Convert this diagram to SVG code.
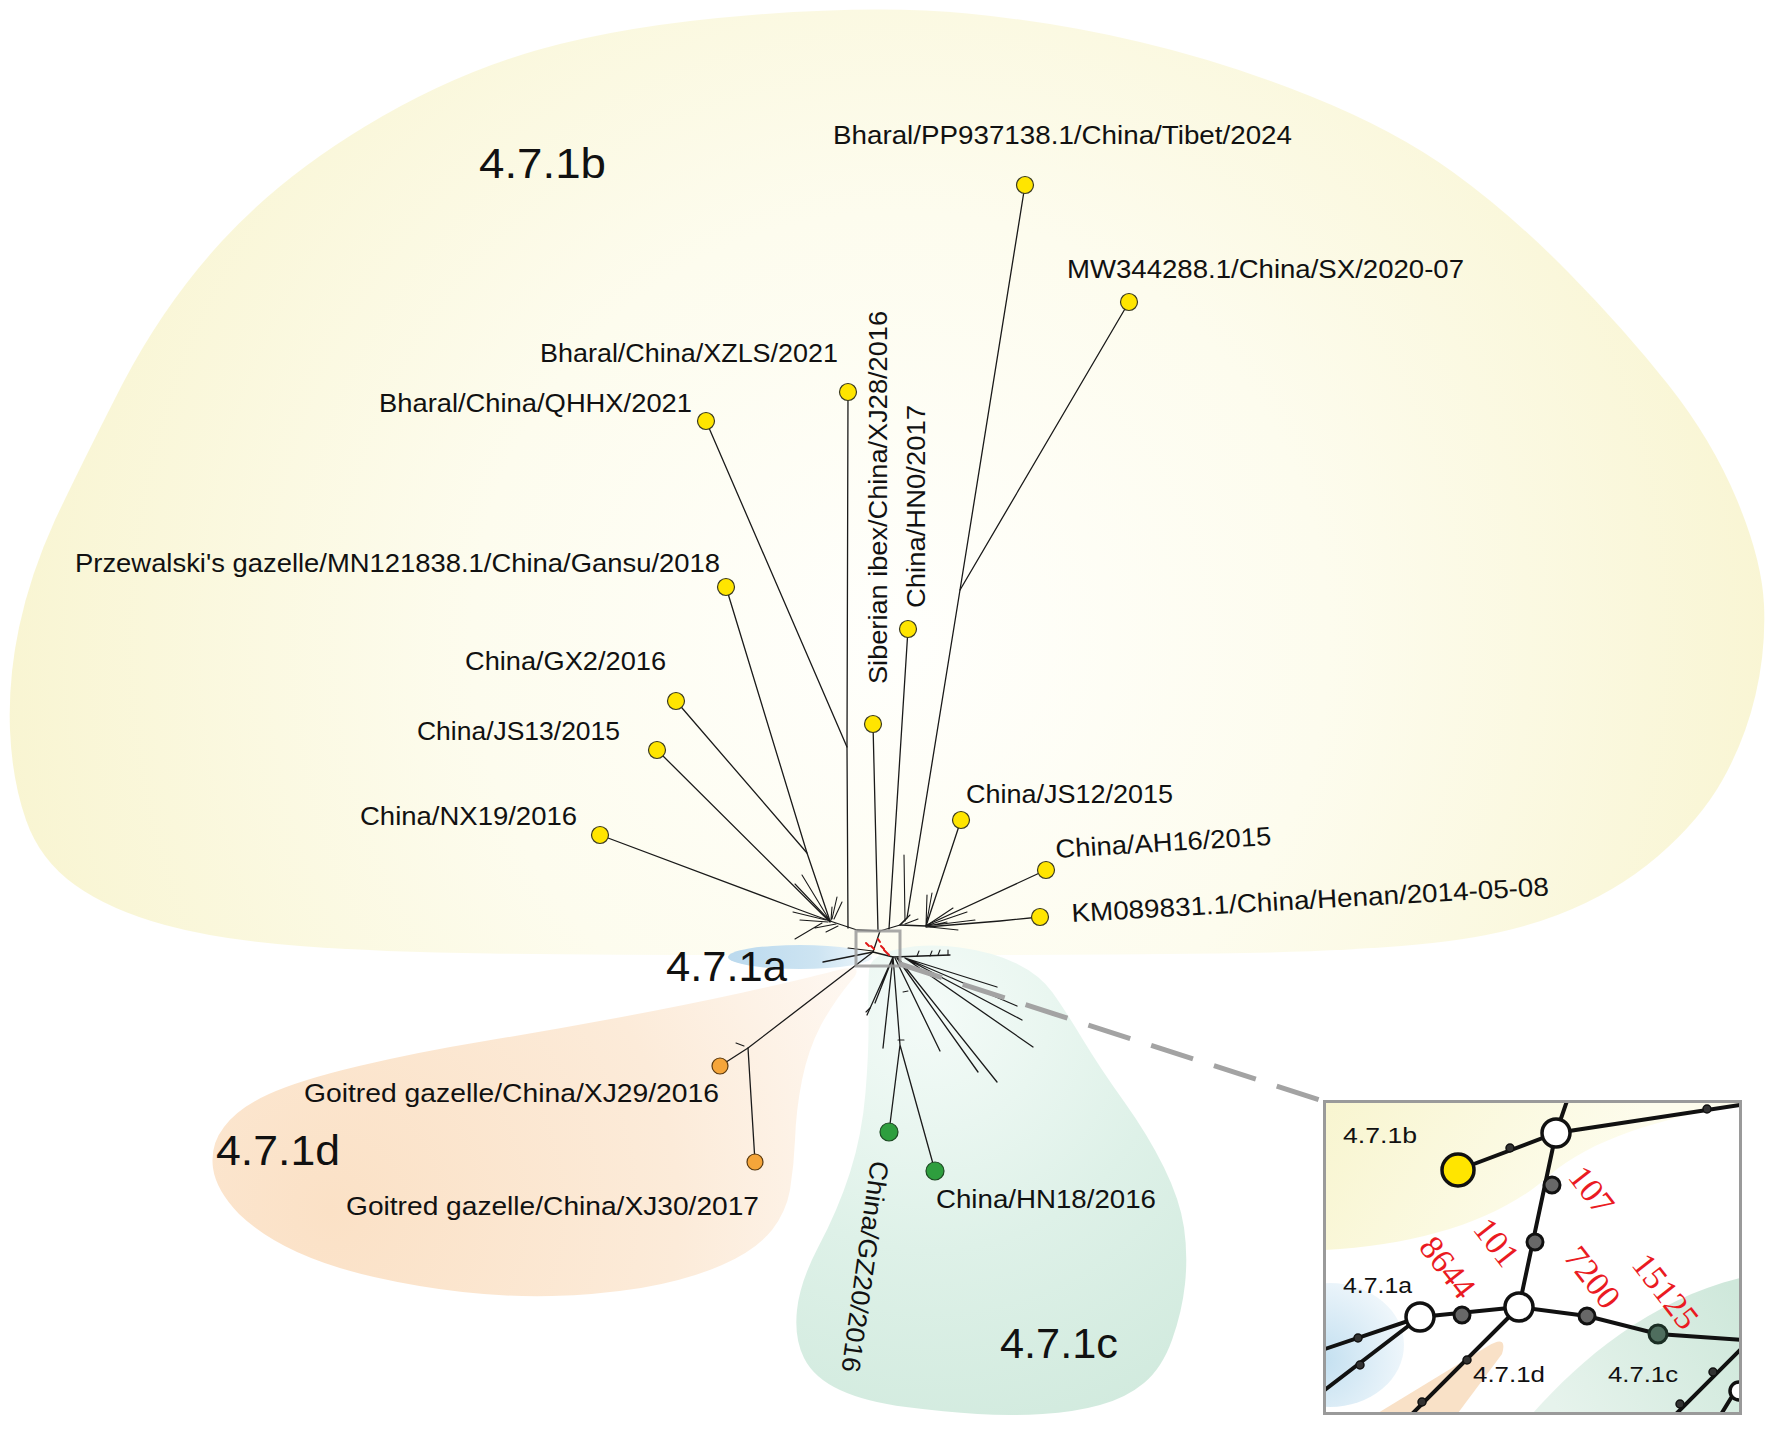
<svg xmlns="http://www.w3.org/2000/svg" width="1772" height="1435" viewBox="0 0 1772 1435">
<defs>
<style>
.br{stroke:#1a1a1a;stroke-width:1.3;fill:none;stroke-linecap:round;stroke-linejoin:round}
.tip{stroke:#1a1a1a;stroke-width:1.1;fill:none;stroke-linecap:round}
.red-m{stroke:#e01818;stroke-width:2;fill:none;stroke-linecap:round}
.lbl{font-family:"Liberation Sans",Arial,sans-serif;font-size:26px;fill:#111}
.clade{font-family:"Liberation Sans",Arial,sans-serif;font-size:42px;fill:#111}
.nY{fill:#ffe500;stroke:#3a3a22;stroke-width:1.2}
.nO{fill:#f5a53a;stroke:#5a3a10;stroke-width:1.2}
.nG{fill:#2e9e3e;stroke:#1c4a22;stroke-width:1.2}
.red{font-family:"Liberation Serif","Times New Roman",serif;font-size:34px;fill:#ea1a22}
.il{font-family:"Liberation Sans",Arial,sans-serif;font-size:22px;fill:#111}
.ib{stroke:#111;stroke-width:4;fill:none;stroke-linecap:round}
.iw{fill:#fff;stroke:#111;stroke-width:3.5}
.ig{fill:#676767;stroke:#111;stroke-width:3}
.is{fill:#333;stroke:#111;stroke-width:1.5}
</style>
<radialGradient id="gY" gradientUnits="userSpaceOnUse" cx="900" cy="640" r="950">
<stop offset="0" stop-color="#fffffc"/><stop offset="0.45" stop-color="#fdfcee"/><stop offset="1" stop-color="#f8f4cf"/>
</radialGradient>
<radialGradient id="gO" gradientUnits="userSpaceOnUse" cx="330" cy="1210" r="580">
<stop offset="0" stop-color="#fbe1c6"/><stop offset="0.6" stop-color="#fcebd9"/><stop offset="1" stop-color="#fef8f2"/>
</radialGradient>
<radialGradient id="gG" gradientUnits="userSpaceOnUse" cx="930" cy="1010" r="480">
<stop offset="0" stop-color="#f4fbf8"/><stop offset="0.5" stop-color="#def1e8"/><stop offset="1" stop-color="#cfe9dc"/>
</radialGradient>
<linearGradient id="gB" gradientUnits="userSpaceOnUse" x1="735" y1="957" x2="872" y2="957">
<stop offset="0" stop-color="#bcdaee"/><stop offset="0.6" stop-color="#cde4f2"/><stop offset="1" stop-color="#eef6fb"/>
</linearGradient>
<linearGradient id="giY" gradientUnits="userSpaceOnUse" x1="1325" y1="1102" x2="1560" y2="1250">
<stop offset="0" stop-color="#f8f5d0"/><stop offset="1" stop-color="#fdfcec"/>
</linearGradient>
<radialGradient id="giB" gradientUnits="userSpaceOnUse" cx="1320" cy="1360" r="85">
<stop offset="0" stop-color="#c2dff0"/><stop offset="1" stop-color="#eef6fb"/>
</radialGradient>
<linearGradient id="giG" gradientUnits="userSpaceOnUse" x1="1740" y1="1300" x2="1560" y2="1413">
<stop offset="0" stop-color="#cfe8db"/><stop offset="1" stop-color="#e6f3ec"/>
</linearGradient>
<clipPath id="insetClip"><rect x="1325" y="1102" width="415" height="311"/></clipPath>
</defs>

<rect x="0" y="0" width="1772" height="1435" fill="#ffffff"/>

<g id="clade-regions">
<path id="region-4.7.1b" fill="url(#gY)" d="M752,15 Q880,5 967.5,13.5 Q1055,22 1140,42 Q1225,62 1310,96 Q1395,130 1453.5,172.5 Q1512,215 1568.5,272.5 Q1625,330 1668.5,385 Q1712,440 1737,500 Q1762,560 1764,605 Q1766,650 1755.5,695 Q1745,740 1722.5,780 Q1700,820 1657.5,856.5 Q1615,893 1557.5,915 Q1500,937 1417.5,944.5 Q1335,952 1217.5,953.5 Q1100,955 985,955 Q870,955 735,955 Q600,955 490,953.5 Q380,952 300,946 Q220,940 165,925 Q110,910 75,885 Q40,860 26,820 Q12,780 10,730 Q8,680 19,627.5 Q30,575 55,520 Q82,463 123,383 Q165,303 222.5,240.5 Q280,178 365,126.5 Q450,75 537.5,50 Q625,25 752,15 Z"/>
<path id="region-4.7.1d" fill="url(#gO)" d="M851,981 Q835,1000 821,1025 Q808,1050 802,1080 Q796,1110 795,1140 Q794,1165 790,1190 Q786,1212 772,1230 Q756,1250 722,1265 Q688,1280 641,1288 Q596,1295 551.5,1296 Q507,1297 462.5,1292 Q418,1287 374,1277 Q330,1267 297,1252 Q262,1236 239,1214 Q216,1190 213,1168 Q210,1145 224,1127 Q238,1108 269,1094 Q300,1080 359,1066 Q418,1052 485,1041 Q552,1030 619,1017.5 Q686,1005 743,992.5 Q800,980 834,971 Q868,962 851,981 Z"/>
<path id="region-4.7.1c" fill="url(#gG)" d="M898.5,949 Q927,943 960,947.5 Q993,952 1016.5,963.5 Q1040,975 1052.5,992.5 Q1065,1010 1082.5,1039 Q1100,1068 1124,1101.5 Q1148,1135 1164,1167.5 Q1180,1200 1184,1227.5 Q1188,1255 1185,1284 Q1182,1312 1172,1340 Q1162,1368 1144,1383 Q1126,1398 1100,1405 Q1075,1412 1042.5,1414 Q1010,1416 977.5,1414 Q945,1412 906,1407 Q866,1402 840,1390 Q814,1378 804,1358 Q794,1338 797,1310 Q800,1282 818,1247.5 Q838,1210 850,1172.5 Q862,1135 865.5,1092.5 Q869,1050 868.5,1017.5 Q868,985 869,970 Q870,955 898.5,949 Z"/>
<ellipse id="region-4.7.1a" cx="800" cy="957" rx="72" ry="12" fill="url(#gB)"/>
</g>

<g id="clade-labels">
<text class="clade" x="479" y="178" textLength="127" lengthAdjust="spacingAndGlyphs">4.7.1b</text>
<text class="clade" x="666" y="981" textLength="121" lengthAdjust="spacingAndGlyphs">4.7.1a</text>
<text class="clade" x="216" y="1165" textLength="124" lengthAdjust="spacingAndGlyphs">4.7.1d</text>
<text class="clade" x="1000" y="1358" textLength="118" lengthAdjust="spacingAndGlyphs">4.7.1c</text>
</g>

<g id="connectors">
<path class="br" d="M600,835 L800,910 L830,921"/>
<path class="br" d="M657,750 L830,922"/>
<path class="br" d="M726,587 L807,853 L830,921"/>
<path class="br" d="M676,701 L807,853"/>
<path class="br" d="M848,392 L847,747 L848,928"/>
<path class="br" d="M706,421 L847,747"/>
<path class="tip" d="M830,921 L802,875 M830,921 L795,884 M832,919 L837,897 M834,919 L842,902 M831,920 L832,907 M822,923 L795,939 M826,920 L793,912 M828,922 L800,920 M836,924 L815,928 M838,926 L826,932"/>
<path class="br" d="M830,921 L857,930 L880,931 L900,925 L926,926"/>
<path class="br" d="M873,724 L878,931"/>
<path class="br" d="M908,629 L889,929"/>
<path class="br" d="M1025,185 L960,590 L907,918 L900,925"/>
<path class="br" d="M1129,302 L960,590"/>
<path class="tip" d="M904,855 L905,921"/>
<path class="br" d="M961,820 L926,926"/>
<path class="br" d="M1046,870 L927,925"/>
<path class="br" d="M1040,917 L1000,921 L926,927"/>
<path class="tip" d="M926,926 L927,895 M926,926 L932,893 M926,926 L953,908 M926,926 L967,912 M926,926 L975,920 M928,926 L947,922 M930,927 L958,930 M900,925 L910,915 M905,924 L918,919"/>
<path class="br" d="M880,931 L877,940 L873,952"/>
<path class="br" d="M873,952 L823,962"/>
<path class="tip" d="M873,951 L848,948"/>
<path class="br" d="M873,952 L748,1048 L720,1066"/>
<path class="br" d="M748,1048 L755,1162"/>
<path class="tip" d="M736,1043 L744,1046"/>
<path class="br" d="M873,952 L893,957 L950,955"/>
<path class="tip" d="M948,955 L948,950 M930,956 L932,951 M917,956 L919,951 M938,955 L940,950"/>
<path class="br" d="M893,957 L867,1015 M893,957 L875,1003 M893,957 L883,1048 M893,957 L900,1045 L889,1132 M900,1045 L935,1171 M895,958 L940,1051 M897,958 L978,1072 M898,958 L997,1082 M905,958 L1033,1047 M905,958 L1022,1020 M905,958 L1017,1006 M905,958 L997,987"/>
<path class="tip" d="M866,1012 L870,1008 M898,1040 L904,1040 M903,992 L908,991"/>
<path class="red-m" d="M866,943 l3,3 M871,946 l3,3 M878,939 l2,3 M881,946 l3,3 M884,950 l3,3 M887,953 l2,2"/>
</g>

<g id="nodes">
<g id="n-tibet"><circle class="nY" cx="1025" cy="185" r="8.5"/><text class="lbl" x="833" y="144" textLength="459" lengthAdjust="spacingAndGlyphs">Bharal/PP937138.1/China/Tibet/2024</text></g>
<g id="n-mw344288"><circle class="nY" cx="1129" cy="302" r="8.5"/><text class="lbl" x="1067" y="278" textLength="397" lengthAdjust="spacingAndGlyphs">MW344288.1/China/SX/2020-07</text></g>
<g id="n-xzls"><circle class="nY" cx="848" cy="392" r="8.5"/><text class="lbl" x="540" y="362" textLength="298" lengthAdjust="spacingAndGlyphs">Bharal/China/XZLS/2021</text></g>
<g id="n-qhhx"><circle class="nY" cx="706" cy="421" r="8.5"/><text class="lbl" x="379" y="412" textLength="313" lengthAdjust="spacingAndGlyphs">Bharal/China/QHHX/2021</text></g>
<g id="n-przewalski"><circle class="nY" cx="726" cy="587" r="8.5"/><text class="lbl" x="75" y="572" textLength="645" lengthAdjust="spacingAndGlyphs">Przewalski's gazelle/MN121838.1/China/Gansu/2018</text></g>
<g id="n-hn0"><circle class="nY" cx="908" cy="629" r="8.5"/><text class="lbl" transform="translate(925,608) rotate(-90)" x="0" y="0" textLength="203" lengthAdjust="spacingAndGlyphs">China/HN0/2017</text></g>
<g id="n-xj28"><circle class="nY" cx="873" cy="724" r="8.5"/><text class="lbl" transform="translate(887,684) rotate(-90)" x="0" y="0" textLength="373" lengthAdjust="spacingAndGlyphs">Siberian ibex/China/XJ28/2016</text></g>
<g id="n-gx2"><circle class="nY" cx="676" cy="701" r="8.5"/><text class="lbl" x="465" y="670" textLength="201" lengthAdjust="spacingAndGlyphs">China/GX2/2016</text></g>
<g id="n-js13"><circle class="nY" cx="657" cy="750" r="8.5"/><text class="lbl" x="417" y="740" textLength="203" lengthAdjust="spacingAndGlyphs">China/JS13/2015</text></g>
<g id="n-nx19"><circle class="nY" cx="600" cy="835" r="8.5"/><text class="lbl" x="360" y="825" textLength="217" lengthAdjust="spacingAndGlyphs">China/NX19/2016</text></g>
<g id="n-js12"><circle class="nY" cx="961" cy="820" r="8.5"/><text class="lbl" x="966" y="803" textLength="207" lengthAdjust="spacingAndGlyphs">China/JS12/2015</text></g>
<g id="n-ah16"><circle class="nY" cx="1046" cy="870" r="8.5"/><text class="lbl" transform="translate(1056,858) rotate(-3.5)" x="0" y="0" textLength="216" lengthAdjust="spacingAndGlyphs">China/AH16/2015</text></g>
<g id="n-km089831"><circle class="nY" cx="1040" cy="917" r="8.5"/><text class="lbl" transform="translate(1072,922) rotate(-3.2)" x="0" y="0" textLength="478" lengthAdjust="spacingAndGlyphs">KM089831.1/China/Henan/2014-05-08</text></g>
<g id="n-xj29"><circle class="nO" cx="720" cy="1066" r="8"/><text class="lbl" x="304" y="1102" textLength="415" lengthAdjust="spacingAndGlyphs">Goitred gazelle/China/XJ29/2016</text></g>
<g id="n-xj30"><circle class="nO" cx="755" cy="1162" r="8"/><text class="lbl" x="346" y="1215" textLength="413" lengthAdjust="spacingAndGlyphs">Goitred gazelle/China/XJ30/2017</text></g>
<g id="n-gz20"><circle class="nG" cx="889" cy="1132" r="9"/><text class="lbl" transform="translate(871,1160) rotate(98)" x="0" y="0" textLength="213" lengthAdjust="spacingAndGlyphs">China/GZ20/2016</text></g>
<g id="n-hn18"><circle class="nG" cx="935" cy="1171" r="9"/><text class="lbl" x="936" y="1208" textLength="220" lengthAdjust="spacingAndGlyphs">China/HN18/2016</text></g>
</g>

<g id="zoom-callout">
<rect x="856" y="931" width="44" height="35" fill="none" stroke="#9a9a9a" stroke-width="3" stroke-opacity="0.85"/>
<path d="M900,964 L1323,1101" stroke="#a3a3a3" stroke-width="5" stroke-dasharray="44 22" fill="none"/>
</g>

<g id="inset">
<rect x="1324.5" y="1101.5" width="416" height="312" fill="#ffffff"/>
<g clip-path="url(#insetClip)">
<path fill="url(#giY)" d="M1325,1102 L1740,1102 L1740,1105 C1660,1118 1590,1140 1550,1175 C1500,1220 1420,1245 1325,1250 Z"/>
<ellipse cx="1330" cy="1345" rx="74" ry="62" fill="url(#giB)"/>
<path fill="#f9e1c7" d="M1378,1413 L1488,1346 Q1508,1334 1502,1354 L1458,1413 Z"/>
<path fill="url(#giG)" d="M1533,1413 C1580,1360 1650,1300 1740,1278 L1740,1413 Z"/>
<path class="ib" d="M1458,1170 L1556,1133 L1740,1105 M1556,1133 L1568,1098 M1556,1133 L1519,1307 M1420,1317 L1519,1307 M1519,1307 L1587,1316 L1658,1334 L1742,1340 M1420,1317 L1322,1350 M1420,1317 L1322,1392 M1519,1307 L1410,1416 M1742,1348 L1674,1416 M1731,1398 L1720,1416"/>
<circle class="iw" cx="1739" cy="1391" r="9"/>
<circle class="is" cx="1510" cy="1148" r="4"/>
<circle class="is" cx="1707" cy="1109" r="4"/>
<circle class="is" cx="1358" cy="1338" r="4"/>
<circle class="is" cx="1360" cy="1365" r="4"/>
<circle class="is" cx="1467" cy="1360" r="4"/>
<circle class="is" cx="1422" cy="1402" r="4"/>
<circle class="is" cx="1713" cy="1372" r="4"/>
<circle class="is" cx="1680" cy="1404" r="4"/>
<circle cx="1458" cy="1170" r="16" fill="#ffe500" stroke="#111" stroke-width="3.5"/>
<circle class="iw" cx="1556" cy="1133" r="14"/>
<circle class="iw" cx="1519" cy="1307" r="14"/>
<circle class="iw" cx="1420" cy="1317" r="14"/>
<circle class="ig" cx="1552" cy="1185" r="8"/>
<circle class="ig" cx="1535" cy="1242" r="8"/>
<circle class="ig" cx="1462" cy="1315" r="8"/>
<circle class="ig" cx="1587" cy="1316" r="8"/>
<circle cx="1658" cy="1334" r="9" fill="#4f6e5e" stroke="#1b2e24" stroke-width="3"/>
<text class="il" x="1343" y="1143" textLength="74" lengthAdjust="spacingAndGlyphs">4.7.1b</text>
<text class="il" x="1343" y="1293" textLength="69" lengthAdjust="spacingAndGlyphs">4.7.1a</text>
<text class="il" x="1473" y="1382" textLength="72" lengthAdjust="spacingAndGlyphs">4.7.1d</text>
<text class="il" x="1608" y="1382" textLength="70" lengthAdjust="spacingAndGlyphs">4.7.1c</text>
<text class="red" text-anchor="middle" dy="0.35em" transform="translate(1592,1190) rotate(52)">107</text>
<text class="red" text-anchor="middle" dy="0.35em" transform="translate(1497,1242) rotate(52)">101</text>
<text class="red" text-anchor="middle" dy="0.35em" transform="translate(1448,1267) rotate(52)">8644</text>
<text class="red" text-anchor="middle" dy="0.35em" transform="translate(1593,1277) rotate(52)">7200</text>
<text class="red" text-anchor="middle" dy="0.35em" transform="translate(1666,1291) rotate(52)">15125</text>
</g>
<rect x="1324.5" y="1101.5" width="416" height="312" fill="none" stroke="#9a9a9a" stroke-width="3"/>
</g>
</svg>
